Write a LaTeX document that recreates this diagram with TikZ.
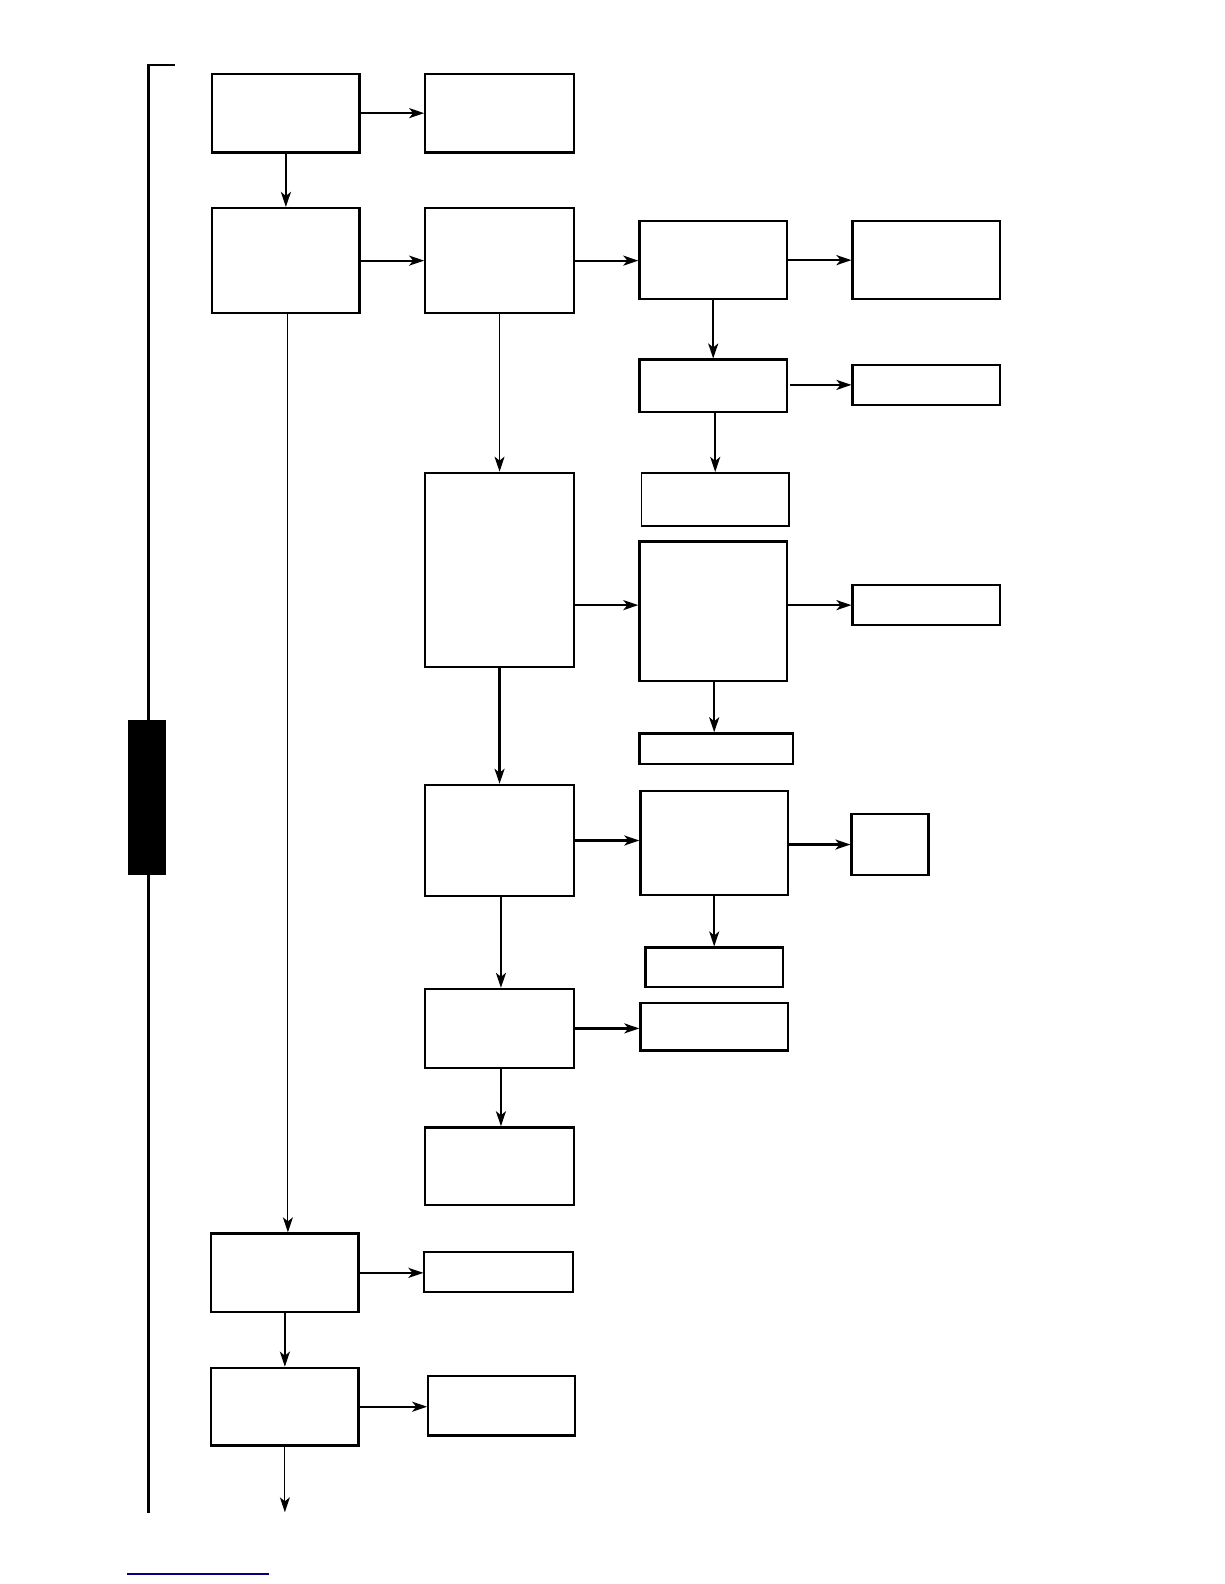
\documentclass[tikz,border=0pt]{standalone}
\usepackage{tikz}
\usetikzlibrary{positioning, arrows.meta}

\begin{document}
\begin{tikzpicture}[
  x=0.505pt, y=-0.505pt,
  box/.style 2 args={rectangle, draw, line width=1.15pt, fill=white,
              minimum width=#1*0.505pt, minimum height=#2*0.505pt,
              inner sep=0pt},
  thinbox/.style 2 args={box={#1}{#2}, line width=0.85pt},
  arr/.style={-{Stealth[length=7.5pt, width=5pt, inset=2pt]}, line width=1.1pt},
  tarr/.style={arr, line width=0.55pt}
]
\useasboundingbox (0,0) rectangle (1212,1568);

% left bracket and marker
\draw[line width=1.1pt] (173,64) -- (147,64) -- (147,1498);
\node[rectangle, fill=black, minimum width=37*0.505pt,
      minimum height=153*0.505pt, inner sep=0pt] (bar) at (145.5,789.5) {};
\draw[blue!50!black, line width=0.6pt] (126,1558) -- (266,1558);

% first column
\node[box={146}{78}]  (A1) at (283,112) {};
\node[box={146}{104}] (A2) at (283,258) {};
\node[box={146}{78}]  (A3) at (282,1260) {};
\node[box={146}{77}]  (A4) at (282,1392.5) {};
\coordinate (out) at (282,1497);

% second column
\node[box={147}{78}]  (B1) at (494.5,112) {};
\node[box={147}{104}] (B2) at (494.5,258) {};
\node[box={147}{192}] (B3) at (494.5,564) {};
\node[box={147}{110}] (B4) at (494.5,832) {};
\node[box={147}{78}]  (B5) at (494.5,1018) {};
\node[box={147}{77}]  (B6) at (494.5,1154.5) {};
\node[thinbox={147}{40}] (B7) at (493.5,1259) {};
\node[box={145}{59}]  (B8) at (496.5,1391.5) {};

% third column
\node[box={146}{77}]  (C1) at (706,257.5) {};
\node[box={146}{52}]  (C2) at (706,382) {};
\node[thinbox={146}{53}] (C3) at (708,494.5) {};
\node[box={146}{138}] (C4) at (706,605) {};
\node[box={152}{30}]  (C5) at (709,741) {};
\node[box={146}{103}] (C6) at (707,834.5) {};
\node[box={136}{39}]  (C7) at (707,957.5) {};
\node[box={146}{47}]  (C8) at (707,1016.5) {};

% fourth column
\node[box={146}{77}]  (D1) at (917,257.5) {};
\node[box={146}{40}]  (D2) at (917,381) {};
\node[box={146}{40}]  (D3) at (917,599) {};
\node[box={76}{60}]   (D4) at (881,836) {};

\draw[arr] (A1) -- (B1);
\draw[arr] (A1) -- (A2);
\draw[arr] (A2) -- (B2);
\draw[arr] (B2.east) -- (B2.east -| C1.west);
\draw[arr] (C1) -- (D1);
\draw[arr] (C1.south) -- (C1.south |- C2.north);
\draw[arr] ([xshift=1pt]C2.east |- D2) -- (D2.west);
\draw[arr] ([xshift=1pt]C2.south) -- ([xshift=1pt]C2.south |- C3.north);
\draw[tarr] (B2) -- (B3);
\draw[arr] (B3.east |- D3) -- (C4.west |- D3);
\draw[arr] (C4.east |- D3) -- (D3.west);
\draw[arr] ([xshift=0.5pt]C4.south) -- ([xshift=0.5pt]C4.south |- C5.north);
\draw[arr] (B3) -- (B4);
\draw[arr] (B4.east) -- (B4.east -| C6.west);
\draw[arr] (C6.east |- D4) -- (D4.west);
\draw[arr] (C6) -- (C7);
\draw[arr] ([xshift=0.7pt]B4.south) -- ([xshift=0.7pt]B4.south |- B5.north);
\draw[arr] (B5.east) -- (B5.east -| C8.west);
\draw[arr] ([xshift=0.7pt]B5.south) -- ([xshift=0.7pt]B5.south |- B6.north);
\draw[tarr] ([xshift=1pt]A2.south) -- ([xshift=1pt]A2.south |- A3.north);
\draw[arr] (A3) -- (A3 -| B7.west);
\draw[arr] (A3) -- (A4);
\draw[arr] (A4.east) -- (A4.east -| B8.west);
\draw[tarr] (A4) -- (out);
\end{tikzpicture}
\end{document}
